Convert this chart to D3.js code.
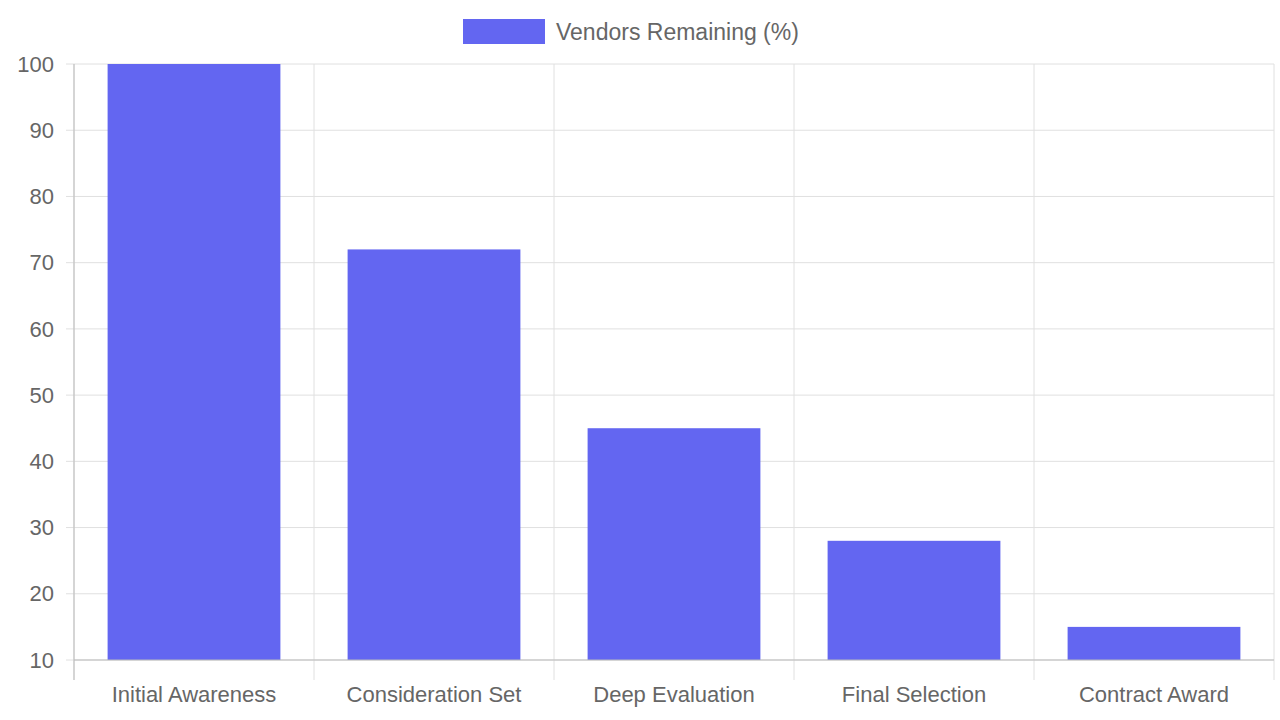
<!DOCTYPE html>
<html>
<head>
<meta charset="utf-8">
<script src="https://cdn.jsdelivr.net/npm/d3@7"></script>
<style>
  body { margin: 0; background: #fff; }
  text { font-family: "Liberation Sans", Arial, sans-serif; fill: #666; }
</style>
</head>
<body>
<div id="chart"></div>
<script>
// Chart data
const stages = ["Initial Awareness", "Consideration Set", "Deep Evaluation", "Final Selection", "Contract Award"];
const vendorsRemaining = [100, 72, 45, 28, 15];
const yTicks = [10, 20, 30, 40, 50, 60, 70, 80, 90, 100];
const seriesName = "Vendors Remaining (%)";

const width = 1280, height = 720;
const margin = { top: 64, right: 6, bottom: 60, left: 74 };
const w = width - margin.left - margin.right;
const h = height - margin.top - margin.bottom;

const svg = d3.select("#chart").append("svg")
    .attr("width", width)
    .attr("height", height);

const g = svg.append("g").attr("transform", `translate(${margin.left},${margin.top})`);

const x = d3.scaleBand().domain(stages).range([0, w]).paddingInner(0).paddingOuter(0);
const y = d3.scaleLinear().domain([10, 100]).range([h, 0]);

// Horizontal grid + left ticks
g.selectAll(".hgrid")
    .data(yTicks)
    .enter()
    .append("line")
    .attr("x1", -8)
    .attr("x2", w)
    .attr("y1", d => y(d))
    .attr("y2", d => y(d))
    .style("stroke", "#e0e0e0")
    .style("stroke-width", 1);

// Vertical grid at category boundaries
const bounds = stages.map(s => x(s)).concat([w]);
g.selectAll(".vgrid")
    .data(bounds)
    .enter()
    .append("line")
    .attr("x1", d => d)
    .attr("x2", d => d)
    .attr("y1", 0)
    .attr("y2", h + 20)
    .style("stroke", "#e0e0e0")
    .style("stroke-width", 1);

// Bars
const barW = x.bandwidth() * 0.72;
g.selectAll(".bar")
    .data(vendorsRemaining)
    .enter()
    .append("rect")
    .attr("x", (d, i) => x(stages[i]) + (x.bandwidth() - barW) / 2)
    .attr("y", d => y(d))
    .attr("width", barW)
    .attr("height", d => h - y(d))
    .style("fill", "#6366f1");

// Axis lines
g.append("line").attr("x1", 0).attr("x2", 0).attr("y1", 0).attr("y2", h + 20)
    .style("stroke", "#bbb");
g.append("line").attr("x1", 0).attr("x2", w).attr("y1", h).attr("y2", h)
    .style("stroke", "#bbb");

// Y labels
g.selectAll(".ylab")
    .data(yTicks)
    .enter()
    .append("text")
    .attr("x", -20)
    .attr("y", d => y(d))
    .attr("dy", "0.35em")
    .style("text-anchor", "end")
    .style("font-size", "22px")
    .text(d => d);

// X labels
g.selectAll(".xlab")
    .data(stages)
    .enter()
    .append("text")
    .attr("x", d => x(d) + x.bandwidth() / 2)
    .attr("y", h + 34)
    .attr("dy", "0.35em")
    .style("text-anchor", "middle")
    .style("font-size", "22px")
    .text(d => d);

// Legend
svg.append("rect")
    .attr("x", 463).attr("y", 19).attr("width", 82).attr("height", 25)
    .style("fill", "#6366f1");
svg.append("text")
    .attr("x", 556).attr("y", 32).attr("dy", "0.35em")
    .style("font-size", "23px")
    .text(seriesName);
</script>
</body>
</html>
